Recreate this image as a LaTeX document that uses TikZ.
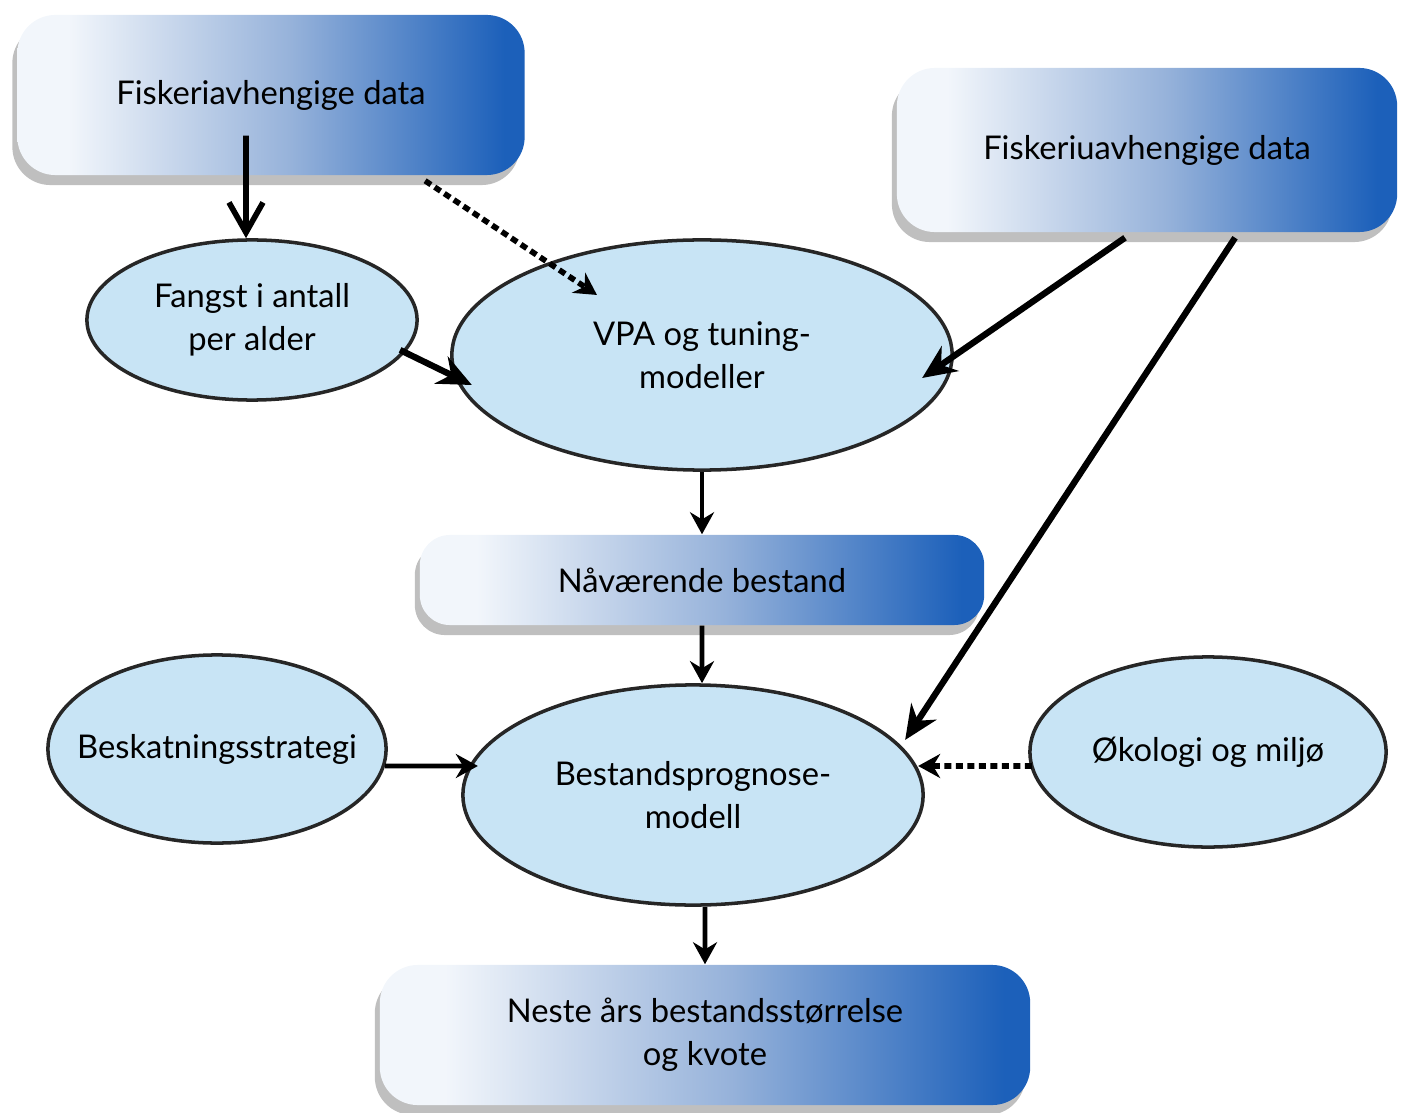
\documentclass[tikz,border=0pt]{standalone}
\usepackage{fontspec}
\setmainfont{Lato}
\usetikzlibrary{arrows.meta, shapes.geometric, shadows}

\definecolor{ovalfill}{RGB}{200,228,245}
\definecolor{boxlight}{RGB}{242,246,251}
\definecolor{boxmid}{RGB}{150,178,218}
\definecolor{boxdark}{RGB}{28,96,186}
\pgfdeclarehorizontalshading{boxshade}{100bp}{color(0bp)=(boxlight); color(30bp)=(boxlight); color(52bp)=(boxmid); color(73bp)=(boxdark); color(100bp)=(boxdark)}

\tikzset{
  databox/.style={rectangle, rounded corners=0.38cm, shading=boxshade, align=center, inner sep=0pt,
    drop shadow={shadow xshift=-0.05cm, shadow yshift=-0.1cm, opacity=0.5}},
  oval/.style={ellipse, draw=black!85, line width=1pt, fill=ovalfill, align=center, inner sep=0pt},
  conn/.style={line width=1.8pt, -{Stealth[length=0.34cm, width=0.3cm]}},
  shortconn/.style={line width=1.3pt, -{Stealth[length=0.22cm, width=0.24cm]}},
  barbconn/.style={line width=1.6pt, -{Straight Barb[length=0.3cm, width=0.34cm]}},
  dashconn/.style={line width=1.6pt, dash pattern=on 0.07cm off 0.045cm, -{Stealth[length=0.22cm, width=0.24cm]}},
}

\begin{document}
\begin{tikzpicture}[x=0.01cm, y=-0.01cm, font=\fontsize{9.3}{12.2}\selectfont]
\useasboundingbox (0,0) rectangle (1404,1113);

% boxes
\node[databox, minimum width=5.07cm, minimum height=1.6cm] (fisk) at (271,95) {Fiskeriavhengige data};
\node[databox, minimum width=5cm, minimum height=1.64cm] (uavh) at (1147,150) {Fiskeriuavhengige data};
\node[databox, minimum width=5.64cm, minimum height=0.9cm, rounded corners=0.3cm] (naa) at (702,580) {Nåværende bestand};
\node[databox, minimum width=6.5cm, minimum height=1.4cm] (neste) at (705,1035) {Neste års bestandsstørrelse\\og kvote};

% ovals
\node[oval, minimum width=3.3cm, minimum height=1.6cm] (fangst) at (252,320) {Fangst i antall\\per alder};
\node[oval, minimum width=5cm, minimum height=2.3cm] (vpa) at (702,355) {VPA og tuning-\\modeller};
\node[oval, minimum width=3.38cm, minimum height=1.88cm, inner xsep=-0.35cm] (beskat) at (217,749) {Beskatningsstrategi};
\node[oval, minimum width=4.6cm, minimum height=2.2cm] (prog) at (693,795) {Bestandsprognose-\\modell};
\node[oval, minimum width=3.56cm, minimum height=1.9cm] (oko) at (1208,752) {Økologi og miljø};

% connectors
\draw [barbconn] ([xshift=-0.25cm, yshift=0.4cm]fisk.south) -- ([xshift=-0.06cm]fangst.north);
\draw [dashconn] ([xshift=1.54cm, yshift=-0.05cm]fisk.south) -- ([xshift=-1.05cm, yshift=0.6cm]vpa.center);
\draw [conn] ([xshift=1.48cm, yshift=-0.3cm]fangst.center) -- ([xshift=-2.3cm, yshift=-0.3cm]vpa.center);
\draw [conn] ([xshift=-0.22cm, yshift=-0.05cm]uavh.south) -- ([xshift=2.2cm, yshift=-0.23cm]vpa.center);
\draw [conn] ([xshift=0.88cm, yshift=-0.05cm]uavh.south) -- ([xshift=2.12cm, yshift=0.55cm]prog.center);
\draw [shortconn] (vpa.south) -- (naa.north);
\draw [shortconn] (naa.south) -- ([xshift=0.09cm]prog.north);
\draw [shortconn] ([xshift=0.12cm]prog.south) -- (neste.north);
\draw [shortconn] ([xshift=1.68cm, yshift=-0.17cm]beskat.center) -- ([xshift=-2.15cm, yshift=0.29cm]prog.center);
\draw [dashconn] ([xshift=-1.76cm, yshift=-0.14cm]oko.center) -- ([xshift=2.25cm, yshift=0.29cm]prog.center);
\end{tikzpicture}
\end{document}
